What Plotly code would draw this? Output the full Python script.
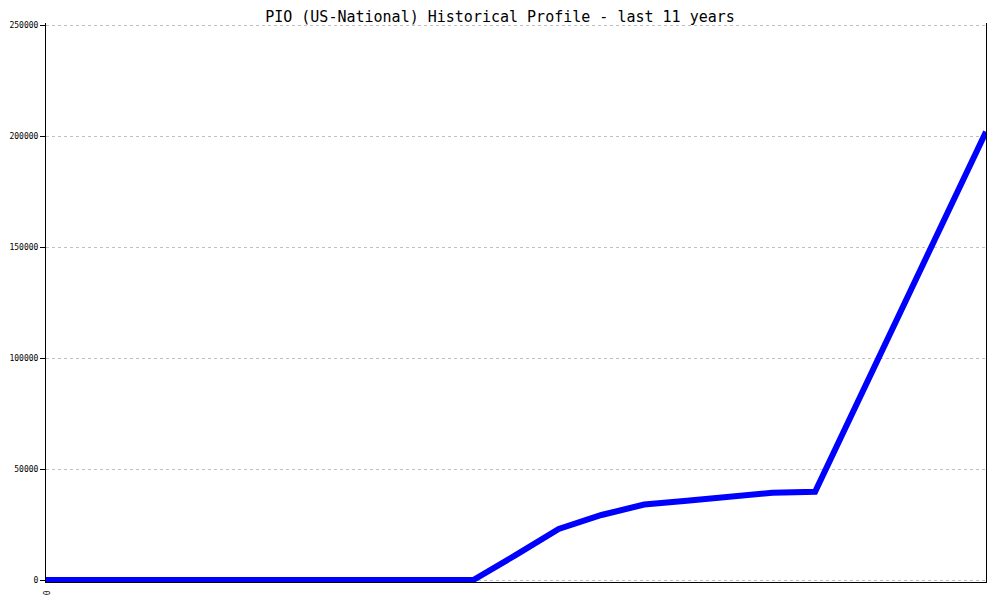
import plotly.graph_objects as go

idx = list(range(23))
values = [0, 0, 0, 0, 0, 0, 0, 0, 0, 0, 0,
          11300, 23000, 29300, 34000, 35700, 37500, 39300, 39800,
          80000, 120500, 161000, 202000]
ytick_vals = [0, 50000, 100000, 150000, 200000, 250000]
ytick_text = ["0", "50000", "100000", "150000", "200000", "250000"]
title_text = "PIO (US-National) Historical Profile - last 11 years"

mono = "DejaVu Sans Mono, Liberation Mono, monospace"

fig = go.Figure()
fig.add_trace(go.Scatter(
    x=idx, y=values, mode="lines",
    line=dict(color="#0000ff", width=6),
    cliponaxis=False, hoverinfo="skip", showlegend=False,
))

fig.update_layout(
    width=1000, height=600,
    margin=dict(l=38, r=22, t=15, b=26, autoexpand=False),
    paper_bgcolor="white", plot_bgcolor="white",
    title=dict(text=title_text, x=0.492, xanchor="center", y=0.994, yanchor="top",
               font=dict(family=mono, size=15, color="black")),
    xaxis=dict(range=[0, 22], tickvals=[0], ticktext=["0"], tickangle=90,
               showgrid=False, zeroline=False, showline=True, linecolor="black", linewidth=1,
               ticks="", automargin=False, ticklabelstandoff=6,
               tickfont=dict(family=mono, size=8, color="black")),
    yaxis=dict(range=[-900, 251000], tickvals=ytick_vals, ticktext=ytick_text,
               showgrid=True, gridcolor="#c0c0c0", griddash="dot", gridwidth=1,
               zeroline=False, showline=True, mirror=True, linecolor="black", linewidth=1,
               ticks="outside", ticklen=5, tickcolor="black", automargin=False,
               tickfont=dict(family=mono, size=8, color="black")),
)

fig.write_html("out.html")
